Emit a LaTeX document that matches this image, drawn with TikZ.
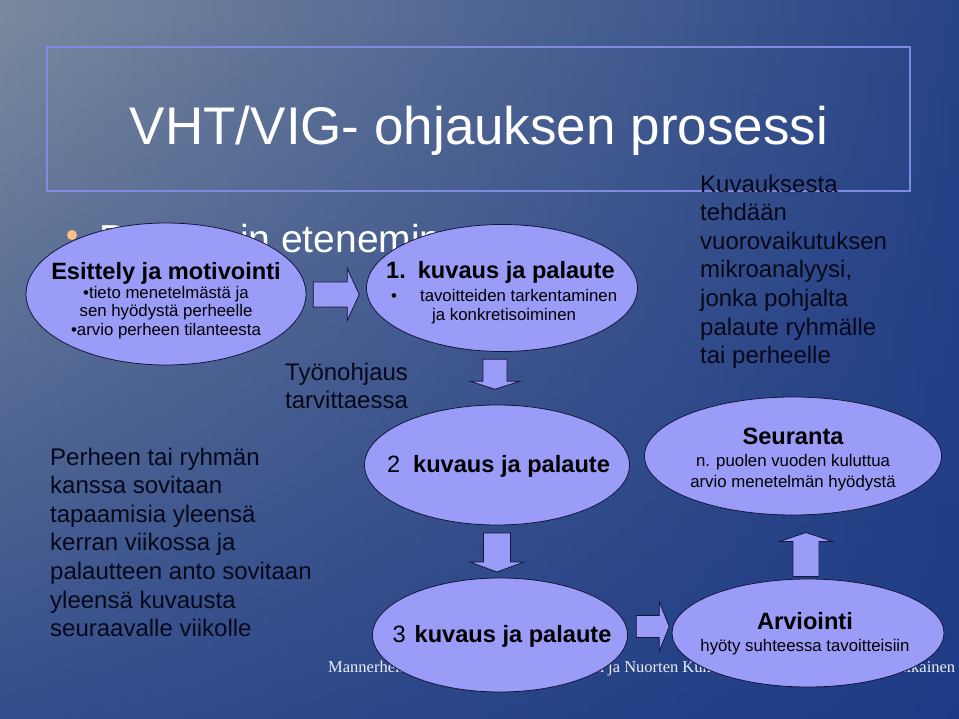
\documentclass[tikz,border=0pt]{standalone}
\usepackage{fontspec}
\setmainfont{Liberation Sans}
\newfontfamily\footfont{Liberation Serif}
\usepackage{xcolor}
\usetikzlibrary{calc,positioning,fadings,shapes.geometric}

\definecolor{bggray}{RGB}{148,160,166}
\definecolor{bgblue}{RGB}{26,56,132}
\definecolor{bubblefill}{RGB}{155,155,248}
\definecolor{bubbleline}{RGB}{20,22,60}
\definecolor{framecol}{RGB}{128,138,226}
\definecolor{inktext}{RGB}{6,8,26}
\definecolor{dotcol}{RGB}{250,192,128}
\definecolor{footwhite}{RGB}{236,236,246}

\tikzfading[name=slidefade, top color=transparent!100, bottom color=transparent!0]

% block arrow: centre, rotation, half length, head length, half shaft, half head
\newcommand{\blockarrow}[6]{%
  \draw[arrowbox, shift={(#1)}, rotate=#2] (-#3,-#5) -- ({#3-#4},-#5) -- ({#3-#4},-#6)
    -- (#3,0) -- ({#3-#4},#6) -- ({#3-#4},#5) -- (-#3,#5) -- cycle;}

\begin{document}
\begin{tikzpicture}[x=1pt, y=-1pt,
  bubble/.style={ellipse, draw=bubbleline, fill=bubblefill, line width=0.8pt, inner sep=0pt},
  bubbletext/.style={align=center, inner sep=0pt, text=black, font=\fontsize{16.8}{18.6}\selectfont},
  arrowbox/.style={draw=bubbleline, fill=bubblefill, line width=0.8pt},
  sidetext/.style={anchor=north west, align=left, inner sep=0pt, text=inktext, font=\fontsize{24}{28.6}\selectfont}]

\useasboundingbox (0,0) rectangle (959,719);
% background
\begin{scope}
  \clip (0,0) rectangle (959,719);
  \shade[left color=bggray, right color=bgblue] (-320,0) rectangle (1120,719);
  \fill[bgblue, path fading=slidefade] (0,20) rectangle (959,980);
\end{scope}

% title
\node[draw=framecol, line width=2pt, minimum width=863, minimum height=144, inner sep=0pt] (titlebox) at (478.5,119) {};
\node[anchor=base, text=white, font=\fontsize{53}{60}\selectfont, inner sep=0pt] (title) at (479,145) {VHT/VIG- ohjauksen prosessi};

\node[circle, fill=dotcol, minimum size=10, inner sep=0pt] (dot) at (72,235) {};
\node[anchor=base west, text=white, font=\fontsize{39}{44}\selectfont, inner sep=0pt] (topic) at (99,253) {Prosessin eteneminen};

\node[anchor=base west, inner sep=0pt, text=footwhite, font=\footfont\fontsize{16.5}{18}\selectfont] (footer) at (328,672)
  {\makebox[627pt][l]{Mannerheimin Lastensuojeluliiton Lasten ja Nuorten Kuntoutus\hfill Liikainen}};

% free texts
\node[sidetext] (ohjaus) at (285,362.5) {Työnohjaus\\tarvittaessa};
\node[sidetext] (sovitaan) at (50,447.5) {Perheen tai ryhmän\\kanssa sovitaan\\tapaamisia yleensä\\kerran viikossa ja\\palautteen anto sovitaan\\yleensä kuvausta\\seuraavalle viikolle};
\node[sidetext] (analyysi) at (700,174.5) {Kuvauksesta\\tehdään\\vuorovaikutuksen\\mikroanalyysi,\\jonka pohjalta\\palaute ryhmälle\\tai perheelle};

% ellipses
\node[bubble, minimum width=280, minimum height=142] (esit) at (166,294) {};
\node[bubble, minimum width=271, minimum height=127] (kuv1) at (502,288) {};
\node[bubble, minimum width=265, minimum height=120] (kuv2) at (497,465) {};
\node[bubble, minimum width=255, minimum height=114] (kuv3) at (500,635) {};
\node[bubble, minimum width=297, minimum height=118] (seur) at (793,456) {};
\node[bubble, minimum width=272, minimum height=108] (arv) at (808,633) {};

\node[bubbletext] (esitText) at ($(esit.center)+(0,6.7)$)
  {{\bfseries\fontsize{23.6}{18.6}\selectfont Esittely ja motivointi}\\•tieto menetelmästä ja\\sen hyödystä perheelle\\•arvio perheen tilanteesta};
\node[bubbletext, align=left, anchor=west] (kuv1Text) at ($(kuv1.center)+(-116,4.7)$)
  {{\bfseries\fontsize{23.6}{18.6}\selectfont 1.\hspace{12pt}kuvaus ja palaute}\\[4.4pt]\hspace*{5pt}•\hspace{23pt}tavoitteiden tarkentaminen\\\hspace*{46pt}ja konkretisoiminen};
\node[bubbletext, font=\fontsize{23.6}{26}\selectfont] (kuv2Text) at ($(kuv2.center)+(1.5,1.8)$) {2\hspace{13pt}\textbf{kuvaus ja palaute}};
\node[bubbletext, font=\fontsize{23.6}{26}\selectfont] (kuv3Text) at ($(kuv3.center)+(2,1.8)$) {3\hspace{9pt}\textbf{kuvaus ja palaute}};
\node[bubbletext, font=\fontsize{16.8}{21.5}\selectfont] (seurText) at ($(seur.center)+(0,3.8)$)
  {{\bfseries\fontsize{23.6}{21.5}\selectfont Seuranta}\\n. puolen vuoden kuluttua\\arvio menetelmän hyödystä};
\node[bubbletext, font=\fontsize{16.8}{22}\selectfont] (arvText) at ($(arv.center)+(-3,1)$)
  {{\bfseries\fontsize{23.6}{22}\selectfont Arviointi}\\hyöty suhteessa tavoitteisiin};

% block arrows between the ellipses
\coordinate (arrA) at ($(esit.east)!0.5!(kuv1.west)+(0,3.5)$);
\coordinate (arrB) at ($(kuv1.south)!0.5!(kuv2.north)+(-4.5,-4)$);
\coordinate (arrC) at ($(kuv2.south)!0.5!(kuv3.north)+(-1.5,1)$);
\coordinate (arrD) at ($(kuv3.east)!0.5!(arv.west)+(3,-7.5)$);
\coordinate (arrE) at ($(arv.north)!0.5!(seur.south)+(5.5,7.5)$);
\blockarrow{arrA}{0}{23}{12}{12.5}{26}
\blockarrow{arrB}{-90}{15}{8}{12}{25}
\blockarrow{arrC}{-90}{19.5}{10}{13.5}{27}
\blockarrow{arrD}{0}{16.5}{10}{11}{24.5}
\blockarrow{arrE}{90}{22}{9}{13}{26.5}
\end{tikzpicture}
\end{document}
